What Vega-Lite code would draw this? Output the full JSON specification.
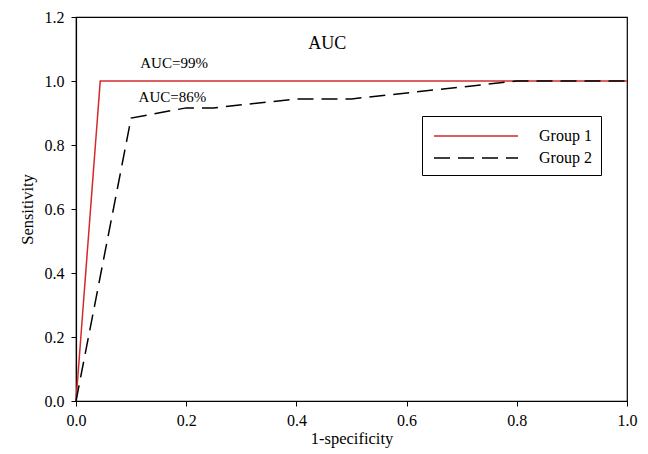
{
  "$schema": "https://vega.github.io/schema/vega-lite/v6.json",
  "width": 551,
  "height": 384,
  "autosize": {"type": "none"},
  "padding": {"left": 76, "top": 17, "right": 21, "bottom": 53},
  "background": "white",
  "config": {
    "view": {"stroke": "black", "strokeWidth": 1.2},
    "font": "Liberation Serif",
    "axis": {
      "grid": false,
      "domainColor": "black",
      "domainWidth": 1.2,
      "tickColor": "black",
      "tickSize": 5,
      "labelFont": "Liberation Serif",
      "labelFontSize": 16,
      "labelColor": "black",
      "labelFlush": false,
      "labelBound": false,
      "titleFont": "Liberation Serif",
      "titleFontSize": 16.5,
      "titleFontWeight": "normal",
      "titleColor": "black"
    }
  },
  "datasets": {
    "roc": [
      {"fpr": 0.0, "sens": 0.0, "group": "Group 1"},
      {"fpr": 0.044, "sens": 1.0, "group": "Group 1"},
      {"fpr": 1.0, "sens": 1.0, "group": "Group 1"},
      {"fpr": 0.0, "sens": 0.0, "group": "Group 2"},
      {"fpr": 0.1, "sens": 0.884, "group": "Group 2"},
      {"fpr": 0.2, "sens": 0.916, "group": "Group 2"},
      {"fpr": 0.25, "sens": 0.916, "group": "Group 2"},
      {"fpr": 0.4, "sens": 0.944, "group": "Group 2"},
      {"fpr": 0.5, "sens": 0.944, "group": "Group 2"},
      {"fpr": 0.8, "sens": 1.0, "group": "Group 2"},
      {"fpr": 1.0, "sens": 1.0, "group": "Group 2"}
    ],
    "notes": [
      {"fpr": 0.456, "sens": 1.115, "label": "AUC", "kind": "title"},
      {"fpr": 0.178, "sens": 1.055, "label": "AUC=99%", "kind": "auc"},
      {"fpr": 0.175, "sens": 0.95, "label": "AUC=86%", "kind": "auc"}
    ]
  },
  "layer": [
    {
      "data": {"name": "roc"},
      "mark": {"type": "line", "strokeWidth": 1.5, "clip": false},
      "encoding": {
        "x": {
          "field": "fpr", "type": "quantitative", "title": "1-specificity",
          "scale": {"domain": [0, 1], "nice": false},
          "axis": {"values": [0, 0.2, 0.4, 0.6, 0.8, 1.0], "format": ".1f", "labelPadding": 6, "titlePadding": 2}
        },
        "y": {
          "field": "sens", "type": "quantitative", "title": "Sensitivity",
          "scale": {"domain": [0, 1.2], "nice": false},
          "axis": {"values": [0, 0.2, 0.4, 0.6, 0.8, 1.0, 1.2], "format": ".1f", "labelPadding": 7, "titlePadding": 9}
        },
        "color": {
          "field": "group", "type": "nominal", "title": null,
          "scale": {"domain": ["Group 1", "Group 2"], "range": ["#d42a2a", "black"]},
          "legend": {
            "orient": "none", "legendX": 346, "legendY": 99,
            "strokeColor": "black", "fillColor": "white", "padding": 9,
            "symbolType": "M-4.2,0H4.2", "symbolSize": 400, "symbolStrokeWidth": 1.5,
            "symbolOffset": 34, "labelOffset": 52,
            "labelFont": "Liberation Serif", "labelFontSize": 16, "labelColor": "black",
            "rowPadding": 3
          }
        },
        "strokeDash": {
          "field": "group", "type": "nominal", "title": null,
          "scale": {"domain": ["Group 1", "Group 2"], "range": [[1, 0], [16, 8]]}
        }
      }
    },
    {
      "data": {"name": "notes"},
      "mark": {"type": "text", "font": "Liberation Serif", "color": "black"},
      "encoding": {
        "x": {"field": "fpr", "type": "quantitative"},
        "y": {"field": "sens", "type": "quantitative"},
        "text": {"field": "label"},
        "size": {"field": "kind", "type": "nominal", "scale": {"domain": ["title", "auc"], "range": [18, 15]}, "legend": null}
      }
    }
  ]
}
